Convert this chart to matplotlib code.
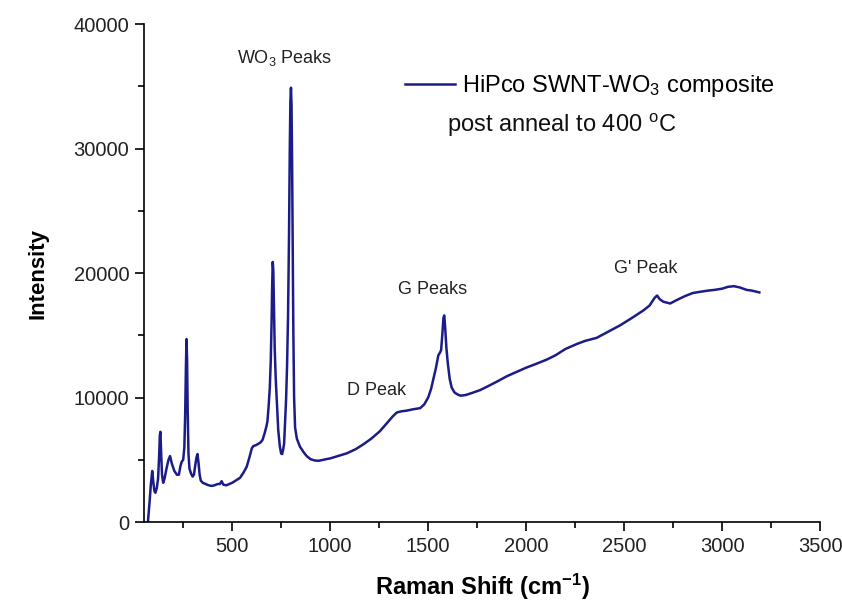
import matplotlib
matplotlib.use("Agg")
import matplotlib.pyplot as plt
from matplotlib.ticker import MultipleLocator

plt.rcParams['font.family'] = ['Liberation Sans', 'DejaVu Sans']
plt.rcParams['mathtext.fontset'] = 'custom'
plt.rcParams['mathtext.rm'] = 'Liberation Sans'
plt.rcParams['mathtext.it'] = 'Liberation Sans:italic'
plt.rcParams['mathtext.bf'] = 'Liberation Sans:bold'

# Raman spectrum
shift = [70, 78, 85, 92, 97, 103, 108, 115, 122, 127, 131, 134, 137, 142, 148,
         155, 165, 175, 183, 192, 205, 218, 228, 236, 243, 250, 256, 260, 264,
         267, 270, 273, 277, 282, 290, 298, 305, 312, 318, 323, 328, 334, 340,
         350, 365, 380, 395, 410, 425, 437, 446, 455, 470, 485, 500, 520, 540,
         557, 574, 590, 600, 608, 617, 630, 645, 655, 665, 675, 680, 686, 692,
         697, 701, 704, 707, 710, 713, 717, 722, 727, 731, 735, 743, 750, 755,
         760, 765, 770, 775, 780, 785, 790, 794, 797, 800, 803, 806, 809, 812,
         816, 821, 830, 846, 865, 880, 900, 920, 940, 960, 980, 1000, 1040,
         1085, 1130, 1170, 1210, 1254, 1290, 1320, 1340, 1365, 1391, 1420,
         1459, 1480, 1500, 1515, 1527, 1540, 1552, 1560, 1566, 1572, 1578,
         1582, 1587, 1593, 1600, 1610, 1620, 1635, 1650, 1665, 1690, 1720,
         1765, 1810, 1859, 1900, 1935, 2000, 2050, 2105, 2150, 2200, 2258,
         2300, 2360, 2420, 2479, 2540, 2598, 2630, 2655, 2668, 2682, 2700,
         2735, 2770, 2810, 2850, 2888, 2930, 2960, 3000, 3030, 3060, 3090,
         3126, 3150, 3177, 3190]
intensity = [0, 1500, 3000, 4100, 3300, 2500, 2350, 2700, 3500, 5200, 7000,
             7250, 5800, 3800, 3150, 3500, 4300, 5000, 5300, 4700, 4100, 3800,
             3800, 4500, 4850, 5000, 6000, 8500, 12500, 14700, 13000, 9000,
             5500, 4300, 3900, 3650, 3800, 4600, 5200, 5460, 4800, 3800, 3320,
             3150, 3050, 2950, 2900, 2950, 3050, 3050, 3280, 3000, 2950, 3050,
             3150, 3350, 3550, 3950, 4440, 5300, 5920, 6100, 6150, 6250, 6400,
             6600, 7100, 7700, 8100, 9300, 10800, 13000, 16000, 19000, 20900,
             20200, 17500, 14000, 11600, 10000, 8600, 7400, 6100, 5500, 5460,
             5800, 6300, 8000, 9800, 12500, 16500, 23000, 30000, 33800, 34900,
             33500, 28500, 21500, 15500, 10000, 7600, 6700, 6050, 5600, 5300,
             5050, 4950, 4920, 4980, 5050, 5110, 5300, 5520, 5850, 6250, 6700,
             7300, 7950, 8500, 8800, 8900, 8950, 9050, 9150, 9450, 10000, 10700,
             11500, 12400, 13400, 13600, 13800, 15000, 16400, 16600, 15600,
             14000, 12800, 11500, 10800, 10400, 10250, 10150, 10200, 10350,
             10600, 10950, 11350, 11700, 11950, 12400, 12700, 13050, 13400,
             13900, 14300, 14550, 14800, 15300, 15800, 16400, 17000, 17400,
             18000, 18200, 17900, 17700, 17560, 17850, 18150, 18400, 18500,
             18600, 18650, 18750, 18900, 18950, 18850, 18650, 18600, 18500,
             18450]

fig = plt.figure(figsize=(8.42, 6.06), dpi=100)
ax = fig.add_axes([0.171, 0.1386, 0.803, 0.8214])

ax.plot(shift, intensity, color='#1c1c88', linewidth=1.8,
        label='HiPco SWNT-WO$_3$ composite')

ax.set_xlim(50, 3500)
ax.set_ylim(0, 40000)
ax.set_xticks([500, 1000, 1500, 2000, 2500, 3000, 3500])
ax.xaxis.set_minor_locator(MultipleLocator(250))
ax.yaxis.set_major_locator(MultipleLocator(10000))
ax.yaxis.set_minor_locator(MultipleLocator(5000))
ax.tick_params(which='major', direction='out', length=6.5, width=1.2,
               labelsize=14.5, pad=4, labelcolor='#222222')
ax.tick_params(which='minor', direction='out', length=4, width=1.2)
ax.spines['top'].set_visible(False)
ax.spines['right'].set_visible(False)
ax.spines['left'].set_linewidth(1.2)
ax.spines['bottom'].set_linewidth(1.2)

ax.set_xlabel('Raman Shift (cm$^{\\mathbf{-1}}$)', fontsize=17,
              fontweight='bold', labelpad=12)
ax.set_ylabel('Intensity', fontsize=16, fontweight='bold', labelpad=18)

# peak annotations
ax.text(765, 37260, 'WO$_3$ Peaks', fontsize=13, ha='center', va='center',
        color='#222222')
ax.text(1237, 10600, 'D Peak', fontsize=13, ha='center', va='center',
        color='#222222')
ax.text(1525, 18710, 'G Peaks', fontsize=13, ha='center', va='center',
        color='#222222')
ax.text(2612, 20400, "G' Peak", fontsize=13, ha='center', va='center',
        color='#222222')

ax.legend(loc='upper left', bbox_to_anchor=(0.386, 0.902), frameon=False,
          fontsize=17, handlelength=2.1, handletextpad=0.3, borderpad=0,
          borderaxespad=0)
ax.text(1597, 31880, 'post anneal to 400 $^{\\mathrm{o}}$C', fontsize=17,
        ha='left', va='center', color='#111111')

fig.savefig('out.png', dpi=100)
